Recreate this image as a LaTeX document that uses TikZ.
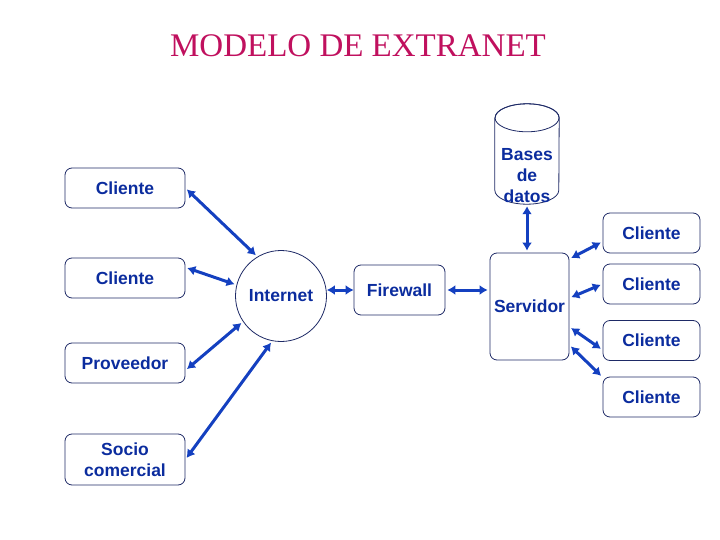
\documentclass[tikz,border=0pt]{standalone}
\usepackage{fontspec}
\setmainfont{Liberation Serif}
\setsansfont{Liberation Sans}
\usetikzlibrary{arrows.meta}
\definecolor{titlered}{HTML}{C0105E}
\definecolor{textblue}{HTML}{0B2C9E}
\definecolor{arrowblue}{HTML}{1440C0}
\definecolor{linenavy}{HTML}{1E2A66}

\begin{document}
\begin{tikzpicture}[x=1pt,y=-1pt]
          \tikzstyle{box}=[draw=linenavy,line width=0.8pt,rounded corners=7pt,minimum width=120pt,minimum height=40pt,text=textblue,font=\sffamily\bfseries\fontsize{17.5}{21.5}\selectfont,align=center]
          \tikzstyle{link}=[<->,>={Latex[length=8pt,width=10pt]},draw=arrowblue,line width=3pt,shorten <=2pt,shorten >=2pt]
          \useasboundingbox (0,0) rectangle (720,540);

          \node[font=\fontsize{33}{36}\selectfont,text=titlered] (title) at (358,46) {MODELO DE EXTRANET};

          % left side
          \node[box] (cl1)   at (125,188)   {Cliente};
          \node[box] (cl2)   at (125,278)   {Cliente};
          \node[box] (prov)  at (125,363)   {Proveedor};
          \node[box,minimum height=51pt] (socio) at (125,459.5) {Socio\\comercial};

          % middle
          \node[box,circle,rounded corners=0pt,minimum size=91pt] (inet) at (281,296) {Internet};
          \node[box,minimum width=91pt,minimum height=50pt] (fw) at (399.5,290) {Firewall};
          \node[box,minimum width=79pt,minimum height=107pt] (serv) at (529.5,306.5) {Servidor};

          % database drum
          \node[minimum width=64pt,minimum height=100pt,inner sep=0pt] (db) at (527,154) {};
          \draw[linenavy,line width=0.8pt] ([yshift=-14pt]db.north west) -- ([yshift=14pt]db.south west)
               arc[start angle=180,end angle=360,x radius=32pt,y radius=14pt] -- ([yshift=-14pt]db.north east)
               arc[start angle=0,end angle=180,x radius=32pt,y radius=14pt];
          \draw[linenavy,line width=0.8pt] ([yshift=-14pt]db.north) ellipse [x radius=32pt,y radius=14pt];
          \node[text=textblue,font=\sffamily\bfseries\fontsize{17.5}{21}\selectfont,align=center] (dbtxt) at (527,176) {Bases\\de\\datos};

          % right side
          \node[box,minimum width=97pt] (cr1) at (651.5,233)   {Cliente};
          \node[box,minimum width=97pt] (cr2) at (651.5,284)   {Cliente};
          \node[box,minimum width=97pt] (cr3) at (651.5,340.5) {Cliente};
          \node[box,minimum width=97pt] (cr4) at (651.5,397)   {Cliente};

          \draw[link] (cl1.east) -- (inet.121);
          \draw[link] (cl2.10) -- (inet.166);
          \draw[link] (prov.-7) -- (inet.214);
          \draw[link] (socio.east) -- (inet.259);
          \draw[link,shorten <=0pt,shorten >=0pt] (fw.west -| inet.east) -- (fw.west);
          \draw[link] (fw.east) -- (fw.east -| serv.west);
          \draw[link] (db.south) -- (db.south |- serv.north);
          \draw[link] (serv.50) -- (cr1.190);
          \draw[link] (serv.12) -- (cr2.west);
          \draw[link] (serv.-27) -- (cr3.191);
          \draw[link] (serv.-44) -- (cr4.158);
        \end{tikzpicture}
\end{document}
